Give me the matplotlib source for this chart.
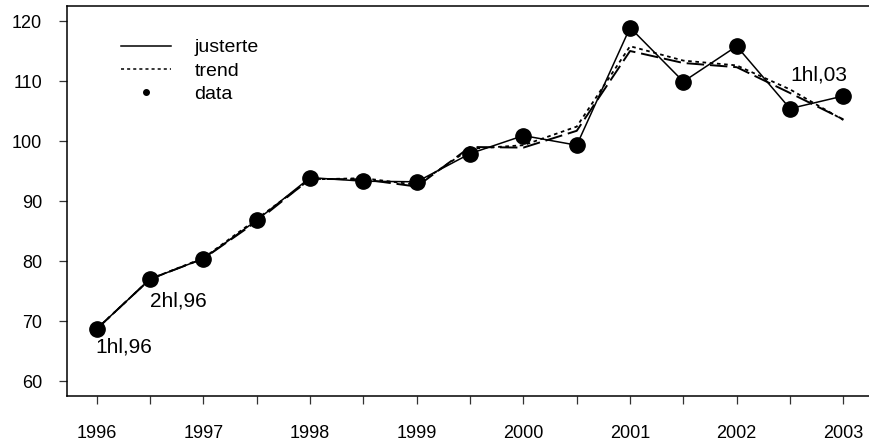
import matplotlib
matplotlib.use("Agg")
import matplotlib.pyplot as plt
from matplotlib.lines import Line2D

plt.rcParams['font.family'] = ['Liberation Sans', 'DejaVu Sans']

periods = [1996.0, 1996.5, 1997.0, 1997.5, 1998.0, 1998.5, 1999.0, 1999.5,
           2000.0, 2000.5, 2001.0, 2001.5, 2002.0, 2002.5, 2003.0]
data = [68.7, 77.0, 80.4, 86.8, 93.9, 93.3, 93.2, 97.9, 100.9, 99.3,
        118.9, 109.9, 115.8, 105.4, 107.5]
justerte = [68.7, 77.0, 80.4, 86.6, 93.7, 93.6, 92.4, 99.0, 98.9, 101.7,
            115.0, 113.0, 112.3, 108.0, 103.6]
trend = [68.7, 77.0, 80.5, 87.0, 93.6, 93.8, 92.7, 98.7, 99.3, 102.4,
         115.8, 113.4, 112.6, 108.6, 103.5]
year_ticks = [1996, 1997, 1998, 1999, 2000, 2001, 2002, 2003]
y_ticks = [60, 70, 80, 90, 100, 110, 120]
labels = [("1hl,96", 0), ("2hl,96", 1), ("1hl,03", 14)]

fig = plt.figure(figsize=(8.7, 4.45), dpi=100)
ax = fig.add_axes([67/870, 1-396/445, 1-67/870, 390/445])

ax.plot(periods, justerte, color='black', lw=1.4, dashes=(9, 3))
ax.plot(periods, trend, color='black', lw=1.3, dashes=(2, 2))
ax.plot(periods, data, color='black', lw=1.1, marker='o', ms=11, zorder=5)

offsets = {0: (-1, -13), 1: (0, -16), 14: (-38, 15)}
for txt, i in labels:
    ax.annotate(txt, (periods[i], data[i]), xytext=offsets[i], textcoords='offset points',
                fontsize=15, ha='left', va='center')

ax.set_xlim(1995.72, 2003.25)
ax.set_ylim(57.5, 122.5)
ax.set_xticks(periods)
ax.set_xticklabels([str(int(p)) if p in year_ticks else '' for p in periods])
ax.set_yticks(y_ticks)
ax.tick_params(axis='both', direction='out', length=6, width=0.9, labelsize=13, color='#333333')
ax.tick_params(axis='x', pad=15)
ax.tick_params(axis='y', pad=12)
ax.spines['right'].set_visible(False)
for s in ['left', 'bottom', 'top']:
    ax.spines[s].set_linewidth(1.1)

handles = [Line2D([], [], color='black', lw=1.1),
           Line2D([], [], color='black', lw=1.1, dashes=(2, 2)),
           Line2D([], [], color='black', lw=0, marker='o', ms=4)]
fig.legend(handles, ['justerte', 'trend', 'data'], loc='upper left',
           bbox_to_anchor=(111/870, 1-29/445), frameon=False, fontsize=14,
           handlelength=2.6, handletextpad=1.2, labelspacing=0.3, borderpad=0)

fig.savefig('out.png', dpi=100)
